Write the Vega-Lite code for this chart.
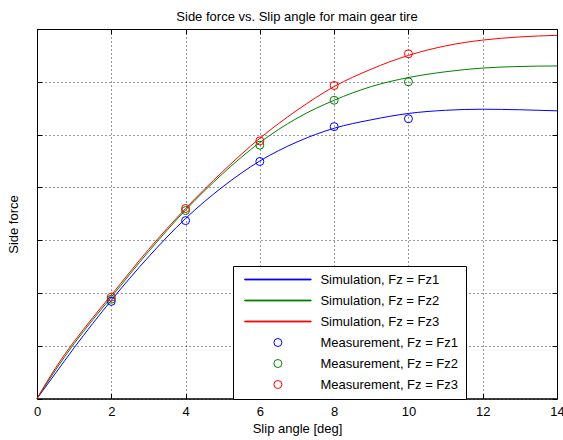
{
  "$schema": "https://vega.github.io/schema/vega-lite/v6.json",
  "width": 520,
  "height": 369.5,
  "autosize": {"type": "none"},
  "padding": {"left": 37, "top": 29, "right": 6, "bottom": 41.5},
  "background": "white",
  "config": {
    "font": "Liberation Sans",
    "view": {"stroke": "black", "strokeWidth": 1},
    "axis": {
      "labelFont": "Liberation Sans",
      "labelFontSize": 13,
      "labelColor": "black",
      "labelFlush": false,
      "titleFont": "Liberation Sans",
      "titleFontSize": 13,
      "titleFontWeight": "normal",
      "titleColor": "black",
      "domainColor": "black",
      "tickColor": "black",
      "tickSize": -5,
      "gridColor": "black",
      "gridDash": [1, 3],
      "gridOpacity": 0.8
    },
    "legend": {
      "title": null,
      "orient": "none",
      "legendX": 196,
      "legendY": 237,
      "padding": 7,
      "strokeColor": "black",
      "fillColor": "white",
      "symbolSize": 64,
      "symbolStrokeWidth": 1,
      "symbolOffset": 31.4,
      "labelOffset": 36,
      "labelFont": "Liberation Sans",
      "labelFontSize": 13,
      "labelColor": "black",
      "labelLimit": 400,
      "rowPadding": 7
    }
  },
  "title": {
    "text": "Side force vs. Slip angle for main gear tire",
    "font": "Liberation Sans",
    "fontSize": 13,
    "fontWeight": "normal",
    "color": "black",
    "baseline": "alphabetic",
    "offset": -5.5,
    "anchor": "middle"
  },
  "datasets": {
    "sim": [
      {"x": 0, "y": 0, "series": "Simulation, Fz = Fz1"},
      {"x": 0.5, "y": 0.48, "series": "Simulation, Fz = Fz1"},
      {"x": 1, "y": 0.96, "series": "Simulation, Fz = Fz1"},
      {"x": 1.5, "y": 1.42, "series": "Simulation, Fz = Fz1"},
      {"x": 2, "y": 1.86, "series": "Simulation, Fz = Fz1"},
      {"x": 3, "y": 2.68, "series": "Simulation, Fz = Fz1"},
      {"x": 4, "y": 3.41, "series": "Simulation, Fz = Fz1"},
      {"x": 5, "y": 4.01, "series": "Simulation, Fz = Fz1"},
      {"x": 6, "y": 4.5, "series": "Simulation, Fz = Fz1"},
      {"x": 7, "y": 4.86, "series": "Simulation, Fz = Fz1"},
      {"x": 8, "y": 5.12, "series": "Simulation, Fz = Fz1"},
      {"x": 9, "y": 5.28, "series": "Simulation, Fz = Fz1"},
      {"x": 10, "y": 5.4, "series": "Simulation, Fz = Fz1"},
      {"x": 11, "y": 5.46, "series": "Simulation, Fz = Fz1"},
      {"x": 12, "y": 5.48, "series": "Simulation, Fz = Fz1"},
      {"x": 13, "y": 5.47, "series": "Simulation, Fz = Fz1"},
      {"x": 14, "y": 5.45, "series": "Simulation, Fz = Fz1"},
      {"x": 0, "y": 0, "series": "Simulation, Fz = Fz2"},
      {"x": 0.5, "y": 0.54, "series": "Simulation, Fz = Fz2"},
      {"x": 1, "y": 1.04, "series": "Simulation, Fz = Fz2"},
      {"x": 1.5, "y": 1.49, "series": "Simulation, Fz = Fz2"},
      {"x": 2, "y": 1.92, "series": "Simulation, Fz = Fz2"},
      {"x": 3, "y": 2.78, "series": "Simulation, Fz = Fz2"},
      {"x": 4, "y": 3.57, "series": "Simulation, Fz = Fz2"},
      {"x": 5, "y": 4.26, "series": "Simulation, Fz = Fz2"},
      {"x": 6, "y": 4.85, "series": "Simulation, Fz = Fz2"},
      {"x": 7, "y": 5.31, "series": "Simulation, Fz = Fz2"},
      {"x": 8, "y": 5.65, "series": "Simulation, Fz = Fz2"},
      {"x": 9, "y": 5.91, "series": "Simulation, Fz = Fz2"},
      {"x": 10, "y": 6.08, "series": "Simulation, Fz = Fz2"},
      {"x": 11, "y": 6.19, "series": "Simulation, Fz = Fz2"},
      {"x": 12, "y": 6.26, "series": "Simulation, Fz = Fz2"},
      {"x": 13, "y": 6.29, "series": "Simulation, Fz = Fz2"},
      {"x": 14, "y": 6.3, "series": "Simulation, Fz = Fz2"},
      {"x": 0, "y": 0, "series": "Simulation, Fz = Fz3"},
      {"x": 0.5, "y": 0.58, "series": "Simulation, Fz = Fz3"},
      {"x": 1, "y": 1.08, "series": "Simulation, Fz = Fz3"},
      {"x": 1.5, "y": 1.53, "series": "Simulation, Fz = Fz3"},
      {"x": 2, "y": 1.96, "series": "Simulation, Fz = Fz3"},
      {"x": 3, "y": 2.82, "series": "Simulation, Fz = Fz3"},
      {"x": 4, "y": 3.6, "series": "Simulation, Fz = Fz3"},
      {"x": 5, "y": 4.3, "series": "Simulation, Fz = Fz3"},
      {"x": 6, "y": 4.93, "series": "Simulation, Fz = Fz3"},
      {"x": 7, "y": 5.46, "series": "Simulation, Fz = Fz3"},
      {"x": 8, "y": 5.91, "series": "Simulation, Fz = Fz3"},
      {"x": 9, "y": 6.24, "series": "Simulation, Fz = Fz3"},
      {"x": 10, "y": 6.5, "series": "Simulation, Fz = Fz3"},
      {"x": 11, "y": 6.68, "series": "Simulation, Fz = Fz3"},
      {"x": 12, "y": 6.79, "series": "Simulation, Fz = Fz3"},
      {"x": 13, "y": 6.85, "series": "Simulation, Fz = Fz3"},
      {"x": 14, "y": 6.88, "series": "Simulation, Fz = Fz3"}
    ],
    "meas": [
      {"x": 2, "y": 1.84, "series": "Measurement, Fz = Fz1"},
      {"x": 4, "y": 3.37, "series": "Measurement, Fz = Fz1"},
      {"x": 6, "y": 4.49, "series": "Measurement, Fz = Fz1"},
      {"x": 8, "y": 5.15, "series": "Measurement, Fz = Fz1"},
      {"x": 10, "y": 5.3, "series": "Measurement, Fz = Fz1"},
      {"x": 2, "y": 1.88, "series": "Measurement, Fz = Fz2"},
      {"x": 4, "y": 3.56, "series": "Measurement, Fz = Fz2"},
      {"x": 6, "y": 4.8, "series": "Measurement, Fz = Fz2"},
      {"x": 8, "y": 5.65, "series": "Measurement, Fz = Fz2"},
      {"x": 10, "y": 6.0, "series": "Measurement, Fz = Fz2"},
      {"x": 2, "y": 1.92, "series": "Measurement, Fz = Fz3"},
      {"x": 4, "y": 3.6, "series": "Measurement, Fz = Fz3"},
      {"x": 6, "y": 4.88, "series": "Measurement, Fz = Fz3"},
      {"x": 8, "y": 5.93, "series": "Measurement, Fz = Fz3"},
      {"x": 10, "y": 6.53, "series": "Measurement, Fz = Fz3"}
    ]
  },
  "layer": [
    {
      "data": {"name": "sim"},
      "mark": {"type": "line", "interpolate": "monotone", "strokeWidth": 1},
      "encoding": {
        "x": {
          "field": "x", "type": "quantitative",
          "scale": {"domain": [0, 14], "nice": false},
          "axis": {"orient": "bottom", "values": [0, 2, 4, 6, 8, 10, 12, 14], "title": "Slip angle [deg]", "grid": true, "labelPadding": 11.5, "titlePadding": 4}
        },
        "y": {
          "field": "y", "type": "quantitative",
          "scale": {"domain": [0, 7], "nice": false},
          "axis": {"orient": "left", "values": [0, 1, 2, 3, 4, 5, 6, 7], "labels": false, "title": "Side force", "grid": true, "titleX": -20, "titleY": 195, "titleBaseline": "alphabetic"}
        },
        "color": {
          "field": "series", "type": "nominal",
          "scale": {
            "domain": ["Simulation, Fz = Fz1", "Simulation, Fz = Fz2", "Simulation, Fz = Fz3", "Measurement, Fz = Fz1", "Measurement, Fz = Fz2", "Measurement, Fz = Fz3"],
            "range": ["#0000ff", "#008000", "#ff0000", "#0000ff", "#008000", "#ff0000"]
          },
          "legend": {
            "labelExpr": "datum.label + '\u00a0\u00a0\u00a0\u00a0\u00a0\u00a0\u00a0\u00a0\u00a0\u00a0\u00a0\u00a0\u00a0\u00a0\u00a0\u00a0\u00a0\u00a0\u00a0\u00a0\u00a0\u00a0\u00a0\u00a0\u00a0'",
            "encode": {"symbols": {"update": {
              "fill": [{"test": "indexof(datum.value, 'Simulation') === 0", "signal": "scale('color', datum.value)"}, {"value": "transparent"}],
              "stroke": [{"test": "indexof(datum.value, 'Simulation') === 0", "value": "transparent"}, {"signal": "scale('color', datum.value)"}],
              "strokeWidth": {"value": 1}
            }}}
          }
        }
      }
    },
    {
      "data": {"name": "meas"},
      "mark": {"type": "point", "filled": false, "size": 64, "strokeWidth": 1, "opacity": 1},
      "encoding": {
        "x": {
          "field": "x", "type": "quantitative",
          "axis": {"orient": "top", "values": [0, 2, 4, 6, 8, 10, 12, 14], "labels": false, "title": null, "grid": false}
        },
        "y": {
          "field": "y", "type": "quantitative",
          "axis": {"orient": "right", "values": [0, 1, 2, 3, 4, 5, 6, 7], "labels": false, "title": null, "grid": false}
        },
        "color": {
          "field": "series", "type": "nominal",
          "scale": {
            "domain": ["Simulation, Fz = Fz1", "Simulation, Fz = Fz2", "Simulation, Fz = Fz3", "Measurement, Fz = Fz1", "Measurement, Fz = Fz2", "Measurement, Fz = Fz3"],
            "range": ["#0000ff", "#008000", "#ff0000", "#0000ff", "#008000", "#ff0000"]
          },
          "legend": {
            "labelExpr": "datum.label + '\u00a0\u00a0\u00a0\u00a0\u00a0\u00a0\u00a0\u00a0\u00a0\u00a0\u00a0\u00a0\u00a0\u00a0\u00a0\u00a0\u00a0\u00a0\u00a0\u00a0\u00a0\u00a0\u00a0\u00a0\u00a0'",
            "encode": {"symbols": {"update": {
              "fill": [{"test": "indexof(datum.value, 'Simulation') === 0", "signal": "scale('color', datum.value)"}, {"value": "transparent"}],
              "stroke": [{"test": "indexof(datum.value, 'Simulation') === 0", "value": "transparent"}, {"signal": "scale('color', datum.value)"}],
              "strokeWidth": {"value": 1}
            }}}
          }
        },
        "shape": {
          "field": "series", "type": "nominal",
          "scale": {
            "domain": ["Simulation, Fz = Fz1", "Simulation, Fz = Fz2", "Simulation, Fz = Fz3", "Measurement, Fz = Fz1", "Measurement, Fz = Fz2", "Measurement, Fz = Fz3"],
            "range": ["M-8.3,-0.1H8.3V0.1H-8.3Z", "M-8.3,-0.1H8.3V0.1H-8.3Z", "M-8.3,-0.1H8.3V0.1H-8.3Z", "circle", "circle", "circle"]
          },
          "legend": {"labelExpr": "datum.label + '\u00a0\u00a0\u00a0\u00a0\u00a0\u00a0\u00a0\u00a0\u00a0\u00a0\u00a0\u00a0\u00a0\u00a0\u00a0\u00a0\u00a0\u00a0\u00a0\u00a0\u00a0\u00a0\u00a0\u00a0\u00a0'"}
        }
      }
    }
  ]
}
